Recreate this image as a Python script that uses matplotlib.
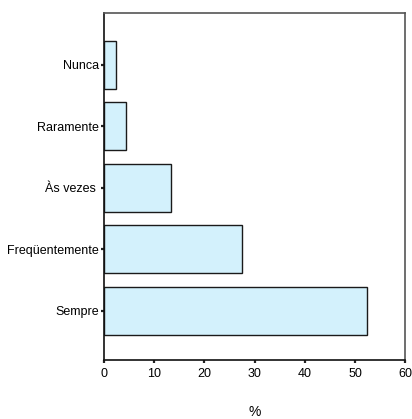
import matplotlib
matplotlib.use("Agg")
import matplotlib.pyplot as plt

plt.rcParams['font.family'] = ['Liberation Sans', 'DejaVu Sans']

# categories from bottom to top
categories = ["Sempre", "Freqüentemente", "Às vezes ", "Raramente", "Nunca"]
percent = [52.4, 27.5, 13.4, 4.4, 2.3]
xticks = [0, 10, 20, 30, 40, 50, 60]

fig = plt.figure(figsize=(4.12, 4.19), dpi=100)
ax = fig.add_axes([0.2524, 0.1408, 0.7318, 0.827])

ypos = list(range(len(categories)))
ax.barh(ypos, percent, height=0.78, color='#d3f1fc', edgecolor='#1a1a1a', linewidth=1.0)

ax.set_xlim(0, 60)
ax.set_ylim(-0.8, 4.83)
ax.set_xticks(xticks)
ax.set_xticklabels([str(t) for t in xticks], fontsize=9)
ax.set_yticks(ypos)
ax.set_yticklabels(categories, fontsize=9)
ax.tick_params(axis='both', direction='out', length=2.5, width=1.6, color='#222222', pad=1)
ax.tick_params(axis='x', pad=3)

for side in ['left', 'bottom']:
    ax.spines[side].set_color('#111111')
    ax.spines[side].set_linewidth(1.2)
for side in ['top', 'right']:
    ax.spines[side].set_color('#555555')
    ax.spines[side].set_linewidth(1.2)

ax.set_xlabel('%', fontsize=10, labelpad=18)

fig.savefig('out.png', dpi=100)
